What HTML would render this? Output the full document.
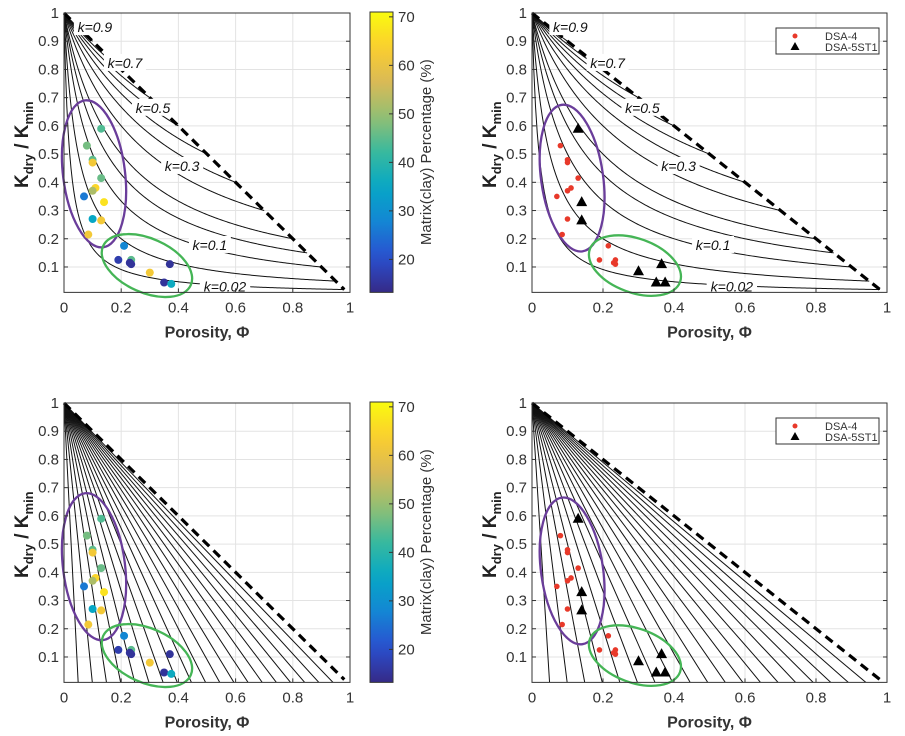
<!DOCTYPE html>
<html><head><meta charset="utf-8"><style>
body{margin:0;background:#fff;}
svg{display:block;font-family:"Liberation Sans",sans-serif;}
</style></head><body>
<svg id="fig" width="905" height="736" viewBox="0 0 905 736"></svg>
<script>
// ---------- data ----------
const kValues = [0.02,0.05,0.1,0.15,0.2,0.3,0.4,0.5,0.6,0.7,0.8,0.9];
const kLabels = ["k=0.9","k=0.7","k=0.5","k=0.3","k=0.1","k=0.02"];
const kLabelPhi = [0.108,0.213,0.311,0.413,0.51,0.563];
const kLabelY = [0.95,0.823,0.664,0.458,0.178,0.03];
const critPorosity = [0.05,0.1,0.15,0.2,0.25,0.3,0.35,0.4,0.45,0.5,0.55,0.6,0.65,0.7,0.75,0.8,0.85,0.9,0.95];
const xTicks = [0,0.2,0.4,0.6,0.8,1];
const xTickLabels = ["0","0.2","0.4","0.6","0.8","1"];
const yTicks = [0.1,0.2,0.3,0.4,0.5,0.6,0.7,0.8,0.9,1];
const yTickLabels = ["0.1","0.2","0.3","0.4","0.5","0.6","0.7","0.8","0.9","1"];
const cbTicks = [20,30,40,50,60,70];
// colored samples (porosity, kratio, clay %)
const samplePhi = [0.13,0.08,0.10,0.10,0.13,0.11,0.10,0.07,0.14,0.10,0.13,0.085,0.21,0.19,0.235,0.23,0.235,0.30,0.37,0.35,0.375];
const sampleK   = [0.59,0.53,0.48,0.47,0.415,0.38,0.37,0.35,0.33,0.27,0.265,0.215,0.175,0.125,0.125,0.115,0.11,0.08,0.11,0.045,0.04];
const sampleClay= [44,47,45,62,46,65,52,26,67,35,62,62,28,17,45,15,15,62,15,15,36];
// well series
const dsa4Phi = [0.08,0.10,0.10,0.13,0.11,0.10,0.07,0.10,0.085,0.215,0.19,0.235,0.23,0.235];
const dsa4K   = [0.53,0.48,0.47,0.415,0.38,0.37,0.35,0.27,0.215,0.175,0.125,0.125,0.115,0.11];
const dsa5Phi = [0.13,0.14,0.14,0.30,0.365,0.35,0.375];
const dsa5K   = [0.59,0.33,0.265,0.085,0.11,0.045,0.045];

const NS="http://www.w3.org/2000/svg";
const svg=document.getElementById('fig');
function mk(tag,attrs,parent){const e=document.createElementNS(NS,tag);for(const k in attrs)e.setAttribute(k,attrs[k]);(parent||svg).appendChild(e);return e;}
const parStops=[[0,'#352A87'],[0.125,'#2a4fd0'],[0.25,'#1485D4'],[0.375,'#06A7C6'],[0.5,'#38B99E'],[0.625,'#92BF73'],[0.75,'#D9BA56'],[0.875,'#FCCE2E'],[1,'#F9FB0E']];
function hex2(h){return [1,3,5].map(i=>parseInt(h.substr(i,2),16));}
function parula(t){t=Math.max(0,Math.min(1,t));for(let i=1;i<parStops.length;i++){if(t<=parStops[i][0]){const a=parStops[i-1],b=parStops[i];const f=(t-a[0])/(b[0]-a[0]);const ca=hex2(a[1]),cb=hex2(b[1]);return 'rgb('+ca.map((v,j)=>Math.round(v+(cb[j]-v)*f)).join(',')+')';}}return parStops[8][1];}
const CMIN=13.2,CMAX=71;

function panel(o){
  const g=mk('g',{});
  
  
  const X=v=>o.x0+(o.x1-o.x0)*v;
  const Y=v=>o.yb-(o.yb-o.yt)*v;
  const bottom=Y(0.01);
  const clipId=o.name+'-clip';
  const cp=mk('clipPath',{id:clipId},g);mk('rect',{x:o.x0,y:o.yt,width:o.x1-o.x0,height:bottom-o.yt},cp);
  xTicks.forEach(v=>{const l=mk('line',{x1:X(v),x2:X(v),y1:o.yt,y2:bottom,stroke:'#e3e3e3','stroke-width':1},g);});
  yTicks.forEach(v=>{const l=mk('line',{x1:o.x0,x2:o.x1,y1:Y(v),y2:Y(v),stroke:'#e3e3e3','stroke-width':1},g);});
  const cg=mk('g',{'clip-path':'url(#'+clipId+')'},g);
  if(o.type==='k'){
    kValues.forEach(k=>{let d='';const end=1-k;for(let i=0;i<=200;i++){const p=end*i/200;const y=k/(k+p);d+=(i?'L':'M')+X(p).toFixed(2)+' '+Y(y).toFixed(2);}
      const pa=mk('path',{d:d,fill:'none',stroke:'#111','stroke-width':1},cg);});
  } else {
    critPorosity.forEach(c=>{const pa=mk('line',{x1:X(0),y1:Y(1),x2:X(c),y2:Y(0),stroke:'#111','stroke-width':1},cg);});
  }
  const dl=mk('line',{x1:X(0),y1:Y(1),x2:X(0.98),y2:Y(0.02),stroke:'#000','stroke-width':3.2,'stroke-dasharray':'9 6'},g);
  
  if(o.type==='k'){
    kLabels.forEach((t,i)=>{const cx=X(kLabelPhi[i]),cy=Y(kLabelY[i]);const w=t.length*8.4;
      const r=mk('rect',{x:cx-w/2,y:cy-9,width:w,height:17,fill:'#fff'},g);
      const tx=mk('text',{x:cx,y:cy+5,'text-anchor':'middle','font-size':14,'font-style':'italic',fill:'#111'},g);tx.textContent=t;});
  }
  const E=(cx,cy,rx,ry,rot,col,n)=>{const e=mk('ellipse',{cx:cx,cy:cy,rx:rx,ry:ry,transform:'rotate('+rot+' '+cx+' '+cy+')',fill:'none',stroke:col,'stroke-width':2.3},g);};
  E(X(o.pE[0]),Y(o.pE[1]),o.pE[2],74,o.pE[3],'#6a3d9a','tight-sand-ellipse');
  E(X(o.gE[0]),Y(o.gE[1]),o.gE[2],27,o.gE[3],'#45b556','porous-sand-ellipse');
  if(o.series==='color'){
    samplePhi.forEach((p,i)=>{const c=mk('circle',{cx:X(p),cy:Y(sampleK[i]),r:4,fill:parula((sampleClay[i]-CMIN)/(CMAX-CMIN))},g);});
  } else {
    dsa4Phi.forEach((p,i)=>{const c=mk('circle',{cx:X(p),cy:Y(dsa4K[i]),r:2.8,fill:'#e8392a'},g);});
    dsa5Phi.forEach((p,i)=>{const x=X(p),y=Y(dsa5K[i]);const t=mk('polygon',{points:`${x},${y-6} ${x-5.5},${y+4} ${x+5.5},${y+4}`,fill:'#000'},g);});
  }
  const fr=mk('rect',{x:o.x0,y:o.yt,width:o.x1-o.x0,height:bottom-o.yt,fill:'none',stroke:'#333','stroke-width':1},g);
  xTicks.forEach((v,i)=>{mk('line',{x1:X(v),x2:X(v),y1:bottom,y2:bottom-4,stroke:'#333'},g);
    const t=mk('text',{x:X(v),y:bottom+20,'text-anchor':'middle','font-size':15,fill:'#333'},g);t.textContent=xTickLabels[i];});
  yTicks.forEach((v,i)=>{mk('line',{x1:o.x0,x2:o.x0+4,y1:Y(v),y2:Y(v),stroke:'#333'},g);mk('line',{x1:o.x1,x2:o.x1-4,y1:Y(v),y2:Y(v),stroke:'#333'},g);
    const t=mk('text',{x:o.x0-5,y:Y(v)+5,'text-anchor':'end','font-size':15,fill:'#333'},g);t.textContent=yTickLabels[i];});
  const xl=mk('text',{x:(o.x0+o.x1)/2,y:bottom+45,'text-anchor':'middle','font-size':16,'font-weight':'bold',fill:'#333'},g);xl.textContent='Porosity, Φ';
  const yl=mk('text',{transform:`translate(${o.x0-36},${(o.yt+bottom)/2-8}) rotate(-90)`,'text-anchor':'middle','font-size':19,'font-weight':'bold',fill:'#222'},g);
  yl.innerHTML='K<tspan font-size="13" dy="5">dry</tspan><tspan dy="-5"> / K</tspan><tspan font-size="13" dy="5">min</tspan>';
  
  if(o.series==='color'){
    const gid=o.name+'-grad';const lg=mk('linearGradient',{id:gid,x1:0,y1:1,x2:0,y2:0},g);
    for(let i=0;i<=20;i++)mk('stop',{offset:i/20,'stop-color':parula(i/20)},lg);
    const cx=370,cw=23;const ct=o.yt-1,cbt=bottom;
    const cb=mk('rect',{x:cx,y:ct,width:cw,height:cbt-ct,fill:'url(#'+gid+')',stroke:'#333'},g);
    const CY=v=>cbt-(cbt-ct)*(v-CMIN)/(CMAX-CMIN);
    cbTicks.forEach(v=>{mk('line',{x1:cx+cw-4,x2:cx+cw,y1:CY(v),y2:CY(v),stroke:'#333'},g);
      const t=mk('text',{x:cx+cw+5,y:CY(v)+5,'font-size':15,fill:'#333'},g);t.textContent=v;});
    const ct2=mk('text',{transform:`translate(431,${(ct+cbt)/2}) rotate(-90)`,'text-anchor':'middle','font-size':15,fill:'#333'},g);ct2.textContent='Matrix(clay) Percentage (%)';
  } else {
    const ly=o.yt+15;
    const lb=mk('rect',{x:776,y:ly,width:103,height:26,fill:'#fff',stroke:'#333'},g);
    mk('circle',{cx:795,cy:ly+8,r:2.5,fill:'#e8392a'},g);
    mk('polygon',{points:`795,${ly+14} 790.5,${ly+22} 799.5,${ly+22}`,fill:'#000'},g);
    const t1=mk('text',{x:825,y:ly+12,'font-size':11,fill:'#333'},g);t1.textContent='DSA-4';
    const t2=mk('text',{x:825,y:ly+23,'font-size':11,fill:'#333'},g);t2.textContent='DSA-5ST1';
  }
}
panel({name:'top-left-panel',x0:64,x1:350,yt:13,yb:295.2,type:'k',series:'color',pE:[0.105,0.43,31,-7],gE:[0.29,0.105,48,24]});
panel({name:'top-right-panel',x0:532,x1:887,yt:13,yb:295.2,type:'k',series:'well',pE:[0.113,0.415,31,-8],gE:[0.29,0.105,48,20]});
panel({name:'bottom-left-panel',x0:64,x1:350,yt:403,yb:685.2,type:'lin',series:'color',pE:[0.105,0.42,31,-7],gE:[0.29,0.105,48,24]});
panel({name:'bottom-right-panel',x0:532,x1:887,yt:403,yb:685.2,type:'lin',series:'well',pE:[0.113,0.405,31,-8],gE:[0.29,0.105,48,20]});
</script>
</body></html>
